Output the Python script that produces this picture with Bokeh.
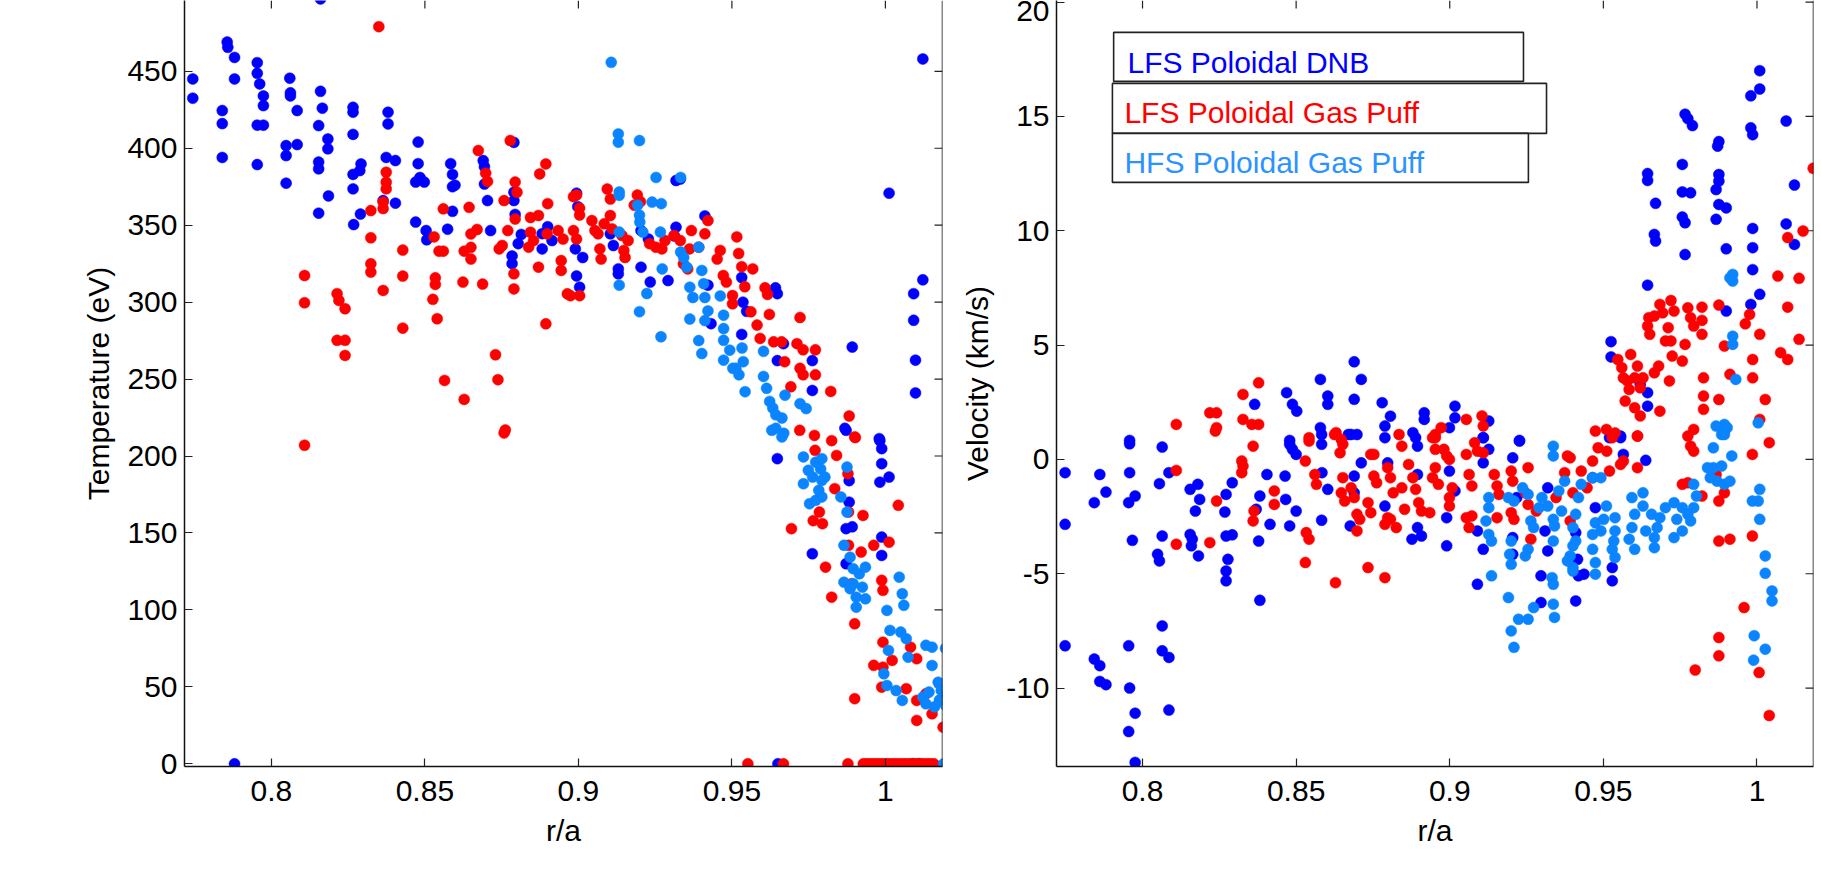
from bokeh.plotting import figure
from bokeh.models import (Range1d, FixedTicker, BoxAnnotation, Label, Span,
                          ColumnDataSource)
from bokeh.layouts import row
from bokeh.embed import file_html
from bokeh.resources import INLINE

# ---------------- data : left panel (Temperature, eV) ----------------
t_dnb_r = [0.816, 0.7744, 0.7744, 0.7856, 0.7858, 0.788, 0.788, 0.784, 0.784, 0.784, 0.7954, 0.7954, 0.7962, 0.7974,
           0.7974, 0.7954, 0.7974, 0.7954, 0.8048, 0.8048, 0.8048, 0.806, 0.8062, 0.8062, 0.8084, 0.8084, 0.816, 0.8166,
           0.8154, 0.8154, 0.8154, 0.8154, 0.8184, 0.8184, 0.8186, 0.8266, 0.8266, 0.8266, 0.8266, 0.8266, 0.8268, 0.829,
           0.8292, 0.8288, 0.838, 0.838, 0.8374, 0.8404, 0.8404, 0.8364, 0.8478, 0.8478, 0.8484, 0.847, 0.8498, 0.847,
           0.8504, 0.8506, 0.8584, 0.859, 0.859, 0.8598, 0.8574, 0.859, 0.869, 0.8694, 0.8694, 0.8704, 0.8714, 0.879,
           0.879, 0.879, 0.8794, 0.8784, 0.8784, 0.8814, 0.8804, 0.8882, 0.8882, 0.8914, 0.89, 0.8994, 0.8998, 0.899,
           0.8994, 0.9014, 0.9004, 0.9104, 0.9114, 0.913, 0.913, 0.9204, 0.9204, 0.9234, 0.9228, 0.9318, 0.9332, 0.9318,
           0.9312, 0.9292, 0.9412, 0.9422, 0.9432, 0.9532, 0.9536, 0.9548, 0.9532, 0.9642, 0.9648, 0.9668, 0.9648, 0.9762,
           0.9762, 0.9868, 0.9892, 0.998, 1.0012, 1.0092, 1.0092, 1.0098, 1.0098, 1.0122, 1.0122,
           0.788, 0.9648, 0.9762, 0.9872, 0.9882, 0.9882, 0.9892, 0.9872, 0.9872, 0.9982, 0.9988, 0.9988, 0.9982, 1.0012,
           0.9988, 0.9988, 0.965, 1.011, 1.009]
t_dnb_t = [497, 445, 432.5, 469, 465.6, 459, 445, 424.5, 416, 394, 455.6, 448.7, 441.8, 434, 427.7, 415, 415, 389.4,
           401.7, 395.2, 377.3, 445.5, 436, 434, 424.5, 402.4, 437, 426, 414.7, 391, 386.6, 357.8, 406, 399.6, 369,
           426.6, 423.4, 409, 383, 373.6, 350.4, 357.2, 389.8, 385.5, 423.4, 415.8, 394, 392, 364.3, 366, 404, 390,
           381, 378, 378, 352, 346.5, 340.5, 390, 383, 375, 376, 347.4, 359, 392, 388, 376.7, 366, 346.5, 403.8, 371.4,
           366, 357, 330, 325, 344, 338, 334.6, 344.5, 340, 349, 370.8, 362, 334.6, 317, 329, 309.7, 344.4, 336.8,
           321.6, 318.4, 346.5, 322.7, 313, 341, 379, 380, 348.7, 343, 314, 356, 311, 286, 316, 300, 294, 279, 309.3,
           305.5, 273, 262, 262, 242.6, 218, 270.8, 211.3, 370.8, 305.5, 288.2, 262.3, 241, 458, 314.5,
           0, 198.3, 136.5, 216.7, 184, 170, 154, 152.8, 130, 210, 204.8, 195, 183, 186.3, 147.3, 135.4, 0, 0, 0]

t_gp_r = [0.835, 0.8374, 0.8374, 0.8374, 0.8364, 0.8364, 0.8324, 0.8324, 0.8324, 0.8324, 0.8364, 0.8428, 0.8428,
          0.8428, 0.8108, 0.8108, 0.8214, 0.822, 0.824, 0.8214, 0.824, 0.824, 0.856, 0.856, 0.853, 0.8546, 0.8534,
          0.8534, 0.8526, 0.854, 0.8564, 0.8628, 0.8624, 0.8628, 0.8674, 0.8644, 0.865, 0.865, 0.865, 0.8688, 0.8698,
          0.8704, 0.867, 0.873, 0.8738, 0.8758, 0.8752, 0.8742, 0.8762, 0.8778, 0.8794, 0.88, 0.8794, 0.879, 0.879,
          0.877, 0.8844, 0.8844, 0.8838, 0.8854, 0.8874, 0.887, 0.887, 0.8894, 0.89, 0.8898, 0.8894, 0.8934, 0.895,
          0.8944, 0.8944, 0.8964, 0.8974, 0.9004, 0.8984, 0.8994, 0.9004, 0.8984, 0.8994, 0.9004, 0.9044, 0.9054,
          0.9064, 0.9084, 0.907, 0.9074, 0.9094, 0.9104, 0.9104, 0.911, 0.9142, 0.9148, 0.9152, 0.9162, 0.9182,
          0.9192, 0.9202, 0.9232, 0.9252, 0.9272, 0.9282, 0.9312, 0.9332, 0.9342, 0.9356, 0.9368, 0.9362, 0.9392,
          0.9422, 0.9412, 0.9452, 0.9462, 0.9472, 0.9482, 0.9502, 0.9502, 0.9516, 0.9522, 0.9532, 0.9542, 0.9568,
          0.9562, 0.9582, 0.9592, 0.9608, 0.9616, 0.9622, 0.9636, 0.9662, 0.9672, 0.9692, 0.9722, 0.9712, 0.9722,
          0.9732, 0.9732, 0.9772, 0.9772, 0.9822, 0.9882, 0.9902,
          0.8108, 0.8758, 0.9694, 0.9721, 0.9769, 0.9771, 0.9765, 0.9785, 0.9795, 0.9805, 0.9825, 0.9835, 0.9825,
          0.9841, 0.9878, 0.988, 0.99, 0.988, 0.989, 0.99, 0.99, 0.9927, 0.9921, 0.9962, 0.9988, 0.9992, 0.9992,
          1.0012, 1.0042, 0.9988, 0.9962, 0.9992, 1.0022, 1.0068, 1.0082, 1.0102, 1.0102, 1.0132, 1.0152, 1.0188,
          1.0102,
          0.9552, 0.9668, 0.9878, 0.9928, 0.9938, 0.9948, 0.9958, 0.9968, 0.9978, 0.9988, 0.9998, 1.0008, 1.0018,
          1.0028, 1.0038, 1.0048, 1.0058, 1.0068, 1.0078, 1.0088, 1.0098, 1.0108, 1.0118, 1.0128, 1.0138, 1.0148,
          1.0158]
t_gp_t = [479, 384.4, 377.9, 373.6, 365, 360.8, 359.5, 341.8, 324.9, 319.5, 307.6, 333.8, 316.9, 283.1, 317.3, 299.6,
          305.5, 301.1, 295.7, 275.2, 275.2, 265.4, 360.6, 333.1, 342.4, 333.1, 315.8, 311.5, 301.8, 289.2, 249.1,
          333.1, 313, 236.8, 398.5, 361.6, 344.3, 335.6, 328, 311.7, 383.8, 378.4, 347.2, 265.8, 249.6, 366, 336.8,
          334.6, 216.9, 405, 378, 371.4, 354, 318.4, 308.6, 346.5, 355, 345.4, 335.7, 340, 383.3, 356.3, 322.7, 389.8,
          364, 344.4, 285.9, 346.5, 341, 327, 320.6, 305.4, 304.2, 304.2, 368.5, 369.6, 361, 346.5, 341, 356.6, 353,
          346.5, 344.4, 350.9, 334.6, 328, 373.5, 367, 356.3, 347.6, 343.3, 333.6, 329, 340, 363, 369.6, 365.3, 338,
          335.7, 334.6, 340, 343.3, 340, 324.9, 321.6, 346.5, 334.6, 335.7, 353, 344.4, 328, 333.6, 317.3, 313, 304.3,
          298.9, 342.4, 331.6, 323, 310, 321.6, 293.7, 285.1, 276.4, 309.3, 305, 292, 274.2, 274.2, 261.3, 245, 290,
          273, 257, 269, 252.8, 269, 252.8, 242, 226, 212,
          207, 215, 152.8, 216.7, 213.4, 203.7, 158, 163.6, 156, 127.8, 108.3, 178.8, 210, 200.4, 188.5, 163.6, 212.4,
          142, 117, 91, 42.3, 161.4, 137.6, 142, 119.2, 112.7, 79, 144, 168, 49.8, 64, 62.8, 67.2, 48.8, 75.8, 68.3,
          41.2, 45.5, 32.5, 23.8, 28.2,
          0, 0, 0, 0, 0, 0, 0, 0, 0, 0, 0, 0, 0, 0, 0, 0, 0, 0, 0, 0, 0, 0, 0, 0, 0, 0, 0]

t_hfs_r = [0.9107, 0.913, 0.913, 0.9199, 0.9253, 0.9333, 0.9133, 0.9133, 0.9193, 0.9199, 0.92, 0.921, 0.924, 0.927,
           0.9267, 0.9133, 0.9133, 0.9199, 0.9223, 0.9269, 0.9273, 0.9333, 0.9343, 0.9353, 0.9363, 0.9373, 0.9363,
           0.9392, 0.9402, 0.9408, 0.9412, 0.9422, 0.9412, 0.9392, 0.9402, 0.9462, 0.9473, 0.9473, 0.9473, 0.9473,
           0.9493, 0.9503, 0.9513, 0.9523, 0.9537, 0.9543, 0.9533, 0.9603, 0.9603, 0.9613, 0.9623, 0.9633, 0.9643,
           0.9663, 0.9643, 0.9673, 0.9669, 0.9722, 0.9742,
           0.963, 0.9663, 0.9733, 0.9749, 0.9773, 0.9793, 0.9733, 0.9763, 0.9793, 0.9753, 0.9783, 0.9793, 0.9773,
           0.9803, 0.9789, 0.9855, 0.9875, 0.9865, 0.9885, 0.9895, 0.9915, 0.9925, 0.9905, 0.9935, 0.9935, 0.9905,
           0.9895, 0.9865, 0.9885, 0.9875, 0.9995, 1.0005, 1.0035, 1.0055, 1.0005, 1.0015, 1.001, 1.0045, 1.0055,
           1.006, 1.0068, 1.005, 1.0074, 1.0132, 1.0152, 1.0152, 1.0122, 1.0142, 1.0172, 1.0182, 1.0196, 1.0196,
           1.0196, 1.016, 1.0176, 1.0132, 1.019]
t_hfs_t = [455.8, 409.3, 403.9, 405, 381, 381, 371.6, 369.4, 363, 356.5, 352, 345.5, 365, 364, 345.5, 345.5, 311,
           293.8, 305.6, 277.5, 321.6, 332.5, 329, 322.7, 309.7, 303, 289, 335.7, 320.6, 312, 303, 294.3, 288, 275,
           266.6, 304, 291.5, 282.8, 275.2, 262.3, 268.8, 257, 257, 252.8, 261.3, 241.8, 270.2, 268, 251.7, 244,
           235.5, 231.2, 226.8, 224.7, 218, 239.5, 214.8, 234, 230.8,
           216.7, 212.4, 199.4, 190.7, 196, 198.3, 182, 186.3, 184.2, 169, 177.7, 173.4, 171.2, 186.3, 191.6, 173.4,
           163.6, 142, 134.3, 126.8, 123.5, 114.8, 108.3, 127.8, 107.2, 101.8, 117, 118, 113.8, 192.8, 58.5, 50.9,
           47.6, 41.2, 99.7, 86.7, 73.7, 121.3, 110.5, 103, 81.3, 85.6, 69.3, 77, 75.8, 63.9, 43.3, 46.6, 53, 47.7,
           75, 45.6, 38, 37, 41.4, 39, 0]

# ---------------- data : right panel (Velocity, km/s) ----------------
v_dnb_r = [1.0009, 1.0009, 0.998, 0.9766, 0.9775, 0.979, 0.9876, 0.9872, 0.998, 0.9986, 1.0095, 0.9757, 0.9644,
           0.9644, 0.9876, 0.9876, 0.9867, 0.9757, 0.9784, 1.0122, 0.967, 0.9876, 0.99, 0.9757, 0.9766, 0.9867,
           0.9986, 1.0095, 0.9666, 0.967, 0.99, 0.9986, 1.0122, 0.9766, 0.9986, 0.9644, 1.0009, 0.998, 0.99, 0.9525,
           0.9525, 0.9644, 0.9644, 0.962,
           0.8689, 0.8579, 0.8712, 0.8469, 0.8603, 0.8603, 0.8689, 0.8488, 0.8502, 0.8365, 0.878, 0.8807, 0.8917,
           0.8917, 0.9017, 0.9017, 0.9127, 0.8579, 0.8789, 0.867, 0.8698, 0.888, 0.8999, 0.9109, 0.7958, 0.8479,
           0.9227, 0.9556,
           0.7748, 0.7748, 0.7748, 0.7861, 0.7843, 0.7881, 0.7843, 0.7861, 0.7861, 0.7881, 0.7958, 0.7958, 0.7955,
           0.7976, 0.7967, 0.7955, 0.7958, 0.7976, 0.7955, 0.7976, 0.8064, 0.8055, 0.8064, 0.8049, 0.8055, 0.8064,
           0.8064, 0.8086, 0.8086, 0.8086, 0.8155, 0.818, 0.8186, 0.8172, 0.8155, 0.8162, 0.8159, 0.8182, 0.8272,
           0.8268, 0.8272, 0.8292, 0.8278, 0.8272, 0.8272, 0.8292, 0.8382, 0.8378, 0.8382, 0.837, 0.8405, 0.8415,
           0.8464, 0.8466,
           0.8479, 0.8488, 0.85, 0.85, 0.8479, 0.8584, 0.8603, 0.8583, 0.8583, 0.8583, 0.8679, 0.8689, 0.8712,
           0.8689, 0.8676, 0.8789, 0.8798, 0.8789, 0.8889, 0.8895, 0.8895, 0.8877, 0.8895, 0.8908,
           0.899, 0.8999, 0.899, 0.9017, 0.909, 0.9109, 0.909, 0.9109, 0.9127, 0.9109, 0.9205, 0.9227, 0.9218,
           0.9205, 0.9205, 0.9319, 0.931, 0.9319, 0.9297, 0.9297, 0.941, 0.9416, 0.9419, 0.941, 0.9437, 0.9465,
           0.9474, 0.9529, 0.9529, 0.952, 0.9556, 0.9565, 0.9638]
v_dnb_v = [17.0, 16.2, 15.9, 15.1, 14.9, 14.6, 13.9, 13.7, 14.5, 14.2, 14.8, 12.9, 12.5, 12.2, 12.46, 12.17, 11.8,
           11.7, 11.66, 12.0, 11.2, 11.15, 11.0, 10.6, 10.35, 10.5, 10.1, 10.3, 9.84, 9.55, 9.21, 9.26, 9.4, 8.96,
           8.3, 7.62, 7.22, 6.78, 6.49, 5.15, 4.48, 2.92, 2.33, 3.28,
           4.27, 3.5, 3.5, 2.92, 2.77, 2.41, 2.63, 2.41, 2.11, 2.41, 2.48, 1.89, 2.04, 1.75, 2.33, 1.82, 1.68, 1.39,
           1.46, 1.09, 1.09, 1.17, 1.39, 0.95, 0.83, 0.83, 0.83, 1.02,
           -0.58, -2.84, -8.15, -0.66, -1.89, -1.43, -8.73, -9.02, -9.71, -9.85, 0.68, -0.58, -1.89, -1.6, -3.54,
           -8.15, -10.0, -11.1, -11.9, -13.25, 0.54, -1.06, -3.35, -4.15, -4.44, -7.28, -8.37, -8.66, -10.96, -0.58,
           -1.31, -1.09, -1.75, -2.26, -3.28, -3.49, -3.78, -4.22, -1.53, -2.3, -3.35, -1.02, -4.37, -4.88, -5.31,
           -3.3, -6.16, -3.57, -1.6, -2.18, -0.66, -2.84, -0.73, -1.75,
           0.66, 0.44, 0.22, -2.26, -2.91, -0.58, -1.31, -2.66, 1.09, 0.66, 1.09, -0.73, -0.15, -1.46, -2.91, 0.95,
           -0.15, -2.04, 0.95, 0.58, -0.66, -3.49, -2.98, -3.35,
           -2.55, -0.51, -3.78, -1.38, -3.13, -3.93, -5.46, 0.95, 0.44, -0.15, 0.07, 0.8, -1.67, -3.42, -4.15, -1.24,
           -3.13, -4.0, -5.09, -6.26, -3.2, -4.37, -5.09, -6.19, -5.02, -0.8, -2.11, -4.73, -5.31, 0.95, 0.95, 0.22,
           -0.04]

v_gp_r = [1.0183, 1.015, 1.01, 1.0068, 1.0137, 1.01, 1.0137, 1.0077, 1.01, 1.0027, 1.0009, 0.9976, 0.9962, 1.0009,
          0.9986, 0.9986, 0.9876, 0.9894, 0.9912, 0.9876, 0.9826, 0.9826, 0.9826, 0.9794, 0.9775,
          0.9821, 0.9821, 0.9821, 0.9775, 0.9784, 0.9794, 0.9766, 0.9757, 0.972, 0.973, 0.9711, 0.9702, 0.9684,
          0.9693, 0.9666, 0.9648, 0.9644, 0.9651, 0.972, 0.9724, 0.9715, 0.9684, 0.9666, 0.968,
          0.9547, 0.956, 0.9589, 0.9565, 0.9578, 0.9602, 0.9611, 0.9629, 0.962, 0.9602, 0.962, 0.9571, 0.9584,
          0.9474, 0.951, 0.9529, 0.9611,
          0.811, 0.8241, 0.8219, 0.8241, 0.8327, 0.8327, 0.8356, 0.8378, 0.8378, 0.863, 0.8542, 0.8647, 0.8835,
          0.8944, 0.8972, 0.9054, 0.9105, 0.9109, 0.8953,
          0.8237, 0.836, 0.8323, 0.8327, 0.8323, 0.836, 0.8363, 0.8241, 0.8219, 0.811, 0.811, 0.8429, 0.8429,
          0.8533, 0.8542, 0.853, 0.8628, 0.8734, 0.8789,
          0.8542, 0.853, 0.8561, 0.8566, 0.8625, 0.8652, 0.8643, 0.8652, 0.8647, 0.8658, 0.8679, 0.8689, 0.8698,
          0.8707, 0.8698, 0.8734, 0.8743, 0.8753, 0.8762, 0.8743, 0.8753, 0.8798, 0.8807, 0.8816, 0.8807, 0.8789,
          0.8826, 0.8798, 0.8844, 0.8844, 0.8853, 0.8866, 0.888, 0.8889, 0.8899, 0.8908, 0.8935, 0.8944, 0.8953,
          0.8963, 0.8953, 0.8981, 0.899, 0.8953, 0.8999, 0.8999, 0.9008, 0.8999, 0.9054, 0.9063, 0.9072, 0.9081,
          0.909, 0.9054, 0.9063, 0.9072, 0.9109, 0.9145, 0.9154, 0.9154, 0.916, 0.92, 0.9205, 0.92, 0.9209, 0.9255,
          0.9246, 0.9255, 0.9264, 0.9282, 0.9346, 0.9374, 0.9392, 0.9401, 0.9383, 0.9392, 0.9428, 0.9447, 0.9465,
          0.9483, 0.9511, 0.952, 0.9538, 0.9556, 0.9565, 0.9611, 0.9611, 0.9794, 0.9775, 0.9784, 0.9821, 0.9867,
          0.9876, 0.9894, 0.9876, 0.9912, 0.9894, 0.9985, 0.9985, 1.004, 0.9958, 0.9876, 0.9876, 0.9799, 1.0007,
          1.004, 0.9757]
v_gp_v = [12.73, 9.99, 9.7, 8.02, 7.92, 6.66, 5.25, 4.67, 4.37, 2.62, 1.75, 6.34, 5.93, 5.47, 4.37, 3.57, 6.75, 4.96,
          3.72, 2.62, 3.57, 2.77, 2.19, 1.31, 1.02,
          6.66, 6.08, 5.47, 6.63, 6.2, 5.83, 5.03, 4.3, 6.95, 6.49, 5.76, 5.18, 6.78, 6.41, 6.27, 6.2, 5.83, 5.47,
          5.18, 4.52, 3.43, 2.11, 3.79, 4.08,
          4.37, 4.01, 4.59, 3.57, 3.43, 3.57, 4.08, 3.57, 3.13, 2.26, 1.9, 2.55, 3.06, 1.24, 1.31, 0.95, 1.02,
          1.53, 1.39, 2.04, 2.04, 2.84, 1.75, 1.53, 1.53, 3.35, 1.17, 0.95, 0.87, 1.09, 0.95, 1.39, 1.75, 1.9, 1.46,
          1.09,
          1.24, 0.58, -0.07, -0.29, -0.58, -2.69, -2.26, -1.82, -3.64, -0.48, -3.71, -1.38, -1.97, -3.2, -3.49, -4.51,
          -5.39, -4.73, -5.17,
          0.8, -0.07, -0.66, -1.09, 1.09, 0.66, 0.29, -0.8, -1.46, -1.82, -1.24, -1.67, -2.4, -2.62, -3.13, -1.89,
          -2.33, -0.73, -1.02, 0.22, 0.22, -0.36, -0.8, -1.46, -2.62, -2.84, -2.98, -2.55, 0.58, -1.24, -2.18, -0.22,
          -0.8, -1.31, -1.89, -2.26, -2.33, -0.8, -0.36, -1.09, 0.95, 0.44, 0.15, 0.44, 0.0, -1.67, -1.24, -2.04,
          0.22, -0.66, -1.16, 0.73, 0.36, -2.55, -2.98, -2.47, 0.29, -0.66, -1.16, -2.55, -1.53, -0.51, -0.95, -2.33,
          -2.62, -0.36, -1.46, -1.97, -3.49, -2.26, -1.67, -0.58, -2.69, -1.46, 0.15, 0.07, -0.51, -1.24, -0.07,
          0.51, 0.36, -0.51, 1.16, -0.22, -0.07, -0.36, 1.02, 0.36, -1.02, 0.58, -1.6, -0.66, -1.82, 1.24, -3.57,
          -3.49, -1.46, 0.22, -3.35, 0.73, -6.48, -7.79, -8.59, -9.21, -9.32, -11.2, -1.09]

v_hfs_r = [0.9921, 0.9912, 0.9921, 0.9921, 0.9921, 0.9931, 0.9894, 0.9867, 0.9903, 1.0004, 0.9885,
           0.9858, 0.9894, 0.9918, 0.9885, 0.9858, 0.987, 0.9894, 0.9794, 0.9803, 0.9794, 0.9775, 0.9757, 0.9784,
           0.973, 0.9739, 0.973, 0.9757, 0.9702, 0.9684, 0.9675, 0.9666, 0.9666, 0.9638, 0.9657, 0.9629, 0.9629,
           0.9602, 0.9593, 0.9602, 0.9584, 0.9593, 0.9538, 0.9538, 0.9534, 0.9538, 0.9529, 0.951, 0.9501, 0.9492,
           0.9474, 0.9465, 0.9465, 0.9474, 0.9474, 0.9492, 0.9465, 0.9428, 0.9419, 0.941, 0.9401, 0.941, 0.9392,
           0.9401, 0.9401, 0.9374, 0.9364, 0.9355, 0.9337, 0.9337, 0.9337, 0.9337, 0.9333, 0.9337, 0.9341, 0.9319,
           0.93, 0.9291, 0.9273, 0.9264, 0.9255, 0.9246, 0.9255, 0.9237, 0.9209, 0.9191, 0.92, 0.9195, 0.92, 0.9191,
           0.92, 0.9209, 0.9224, 0.9255, 0.9273, 0.9127, 0.9127, 0.9118, 0.9127, 0.9136, 0.9136, 0.9337, 0.9341,
           0.9383, 0.9401, 1.0027, 1.0027, 1.0049, 1.0049, 1.0009, 1.0004, 1.0009, 0.9985, 0.9991, 1.0027, 0.9989,
           0.9839, 0.9848, 0.9912]
v_hfs_v = [8.09, 7.94, 7.8, 5.39, 5.03, 3.5, 1.53, 1.46, 1.39, 1.6, 1.09,
           0.51, 1.09, 0.15, -0.29, -0.36, -0.95, -1.09, -1.09, -1.6, -2.11, -2.4, -2.11, -2.69, -1.89, -2.62, -3.42,
           -3.13, -2.11, -2.55, -2.98, -3.42, -3.86, -3.13, -2.4, -1.46, -2.04, -2.4, -2.98, -3.93, -3.49, -1.67,
           -2.55, -3.13, -3.57, -4.29, -3.93, -2.04, -2.62, -3.13, -2.77, -3.28, -3.93, -4.51, -5.02, -0.8, -0.8,
           -1.09, -1.67, -2.4, -2.98, -3.57, -4.22, -4.73, -4.88, -0.95, -2.26, -1.38, 0.58, 0.15, -2.62, -3.57,
           -5.17, -5.46, -6.91, -2.04, -1.67, -2.11, -2.98, -2.69, -3.93, -4.22, -1.53, -1.24, -1.82, -1.67, -3.57,
           -4.15, -4.59, -6.04, -7.5, -8.22, -6.99, -6.99, -6.48, -1.67, -2.11, -2.69, -3.28, -3.57, -5.09, -6.33,
           -2.91, -4.44, -3.78, -4.22, -4.98, -5.75, -6.19, -1.31, -1.82, -2.62, -1.82, -7.71, -8.3, -8.78, -0.36,
           -0.8, -0.95]

x_ticks = [0.8, 0.85, 0.9, 0.95, 1.0]
x_tick_labels = ["0.8", "0.85", "0.9", "0.95", "1"]
t_ticks = [0, 50, 100, 150, 200, 250, 300, 350, 400, 450, 500]
t_tick_labels = ["0", "50", "100", "150", "200", "250", "300", "350", "400", "450", "500"]
v_ticks = [-10, -5, 0, 5, 10, 15, 20]
v_tick_labels = ["-10", "-5", "0", "5", "10", "15", "20"]

series_names = ["LFS Poloidal DNB", "LFS Poloidal Gas Puff", "HFS Poloidal Gas Puff"]
series_colors = ["#0000ff", "#ff0000", "#0a84ff"]
legend_text_colors = ["#0000ff", "#ff0000", "#2b93ff"]

FONT = "Liberation Sans"
TICK_SIZE = "30px"
LABEL_SIZE = "30px"
TICK_LEN_PX = 8          # inward tick length on the mirrored (right / top) sides
FRAME_W = [758, 757]
FRAME_H = 766


def style_axis(ax, ticks, labels):
    ax.ticker = FixedTicker(ticks=ticks)
    ax.major_label_overrides = {t: l for t, l in zip(ticks, labels)}
    ax.major_tick_in = TICK_LEN_PX
    ax.major_tick_out = 0
    ax.minor_tick_in = 0
    ax.minor_tick_out = 0
    ax.major_tick_line_color = "#222222"
    ax.major_tick_line_width = 1.2
    ax.axis_line_color = "#111111"
    ax.axis_line_width = 1.5
    ax.major_label_text_font = FONT
    ax.major_label_text_color = "black"
    ax.major_label_text_font_size = TICK_SIZE
    ax.axis_label_text_font = FONT
    ax.axis_label_text_font_size = LABEL_SIZE
    ax.axis_label_text_font_style = "normal"
    ax.axis_label_text_color = "black"


def make_fig(width, left_border, frame_w, x_rng, y_rng, yticks, ylabels, ytitle):
    p = figure(width=width, height=871, x_range=x_rng, y_range=y_rng,
               output_backend="svg", toolbar_location=None,
               min_border_left=left_border, min_border_right=8,
               min_border_top=0, min_border_bottom=871 - FRAME_H)
    p.outline_line_color = None
    p.grid.visible = False
    p.background_fill_color = "white"
    p.border_fill_color = "white"

    xa = p.xaxis[0]
    style_axis(xa, x_ticks, x_tick_labels)
    xa.major_label_standoff = 14
    xa.axis_label = "r/a"
    xa.axis_label_standoff = 10

    ya = p.yaxis[0]
    style_axis(ya, yticks, ylabels)
    ya.major_label_standoff = 7
    ya.axis_label = ytitle
    ya.axis_label_standoff = 9

    # mirrored box side (right) and inward ticks on the right and top sides
    p.add_layout(Span(location=x_rng.end, dimension="height", line_color="#111111", line_width=1.5))
    dx = (x_rng.end - x_rng.start) * TICK_LEN_PX / frame_w
    dy = (y_rng.end - y_rng.start) * TICK_LEN_PX / FRAME_H
    ry = [t for t in yticks if y_rng.start <= t <= y_rng.end]
    p.segment(x0=[x_rng.end] * len(ry), x1=[x_rng.end - dx] * len(ry), y0=ry, y1=ry,
              line_color="#222222", line_width=1.2)
    tx = [t for t in x_ticks if x_rng.start <= t <= x_rng.end]
    p.segment(x0=tx, x1=tx, y0=[y_rng.end] * len(tx), y1=[y_rng.end - dy] * len(tx),
              line_color="#222222", line_width=1.2)
    return p


x_rng1 = Range1d(0.7717, 1.0186)
x_rng2 = Range1d(0.7720, 1.0184)

p1 = make_fig(950, 184, FRAME_W[0], x_rng1, Range1d(-1.75, 496.0), t_ticks, t_tick_labels, "Temperature (eV)")
p2 = make_fig(871, 106, FRAME_W[1], x_rng2, Range1d(-13.43, 20.07), v_ticks, v_tick_labels, "Velocity (km/s)")

left_sets = [(t_dnb_r, t_dnb_t), (t_gp_r, t_gp_t), (t_hfs_r, t_hfs_t)]
right_sets = [(v_dnb_r, v_dnb_v), (v_gp_r, v_gp_v), (v_hfs_r, v_hfs_v)]

for (xs, ys), col in zip(left_sets, series_colors):
    src = ColumnDataSource(dict(x=xs, y=ys))
    p1.scatter("x", "y", source=src, size=11, fill_color=col, line_color=col, line_width=0.5)

for (xs, ys), col in zip(right_sets, series_colors):
    src = ColumnDataSource(dict(x=xs, y=ys))
    p2.scatter("x", "y", source=src, size=11, fill_color=col, line_color=col, line_width=0.5)

# legend text boxes (MATLAB-style annotation boxes)
box_left = [0.7906, 0.7902, 0.7902]
box_right = [0.9240, 0.9315, 0.9256]
box_top = [18.675, 16.444, 14.258]
box_bottom = [16.532, 14.258, 12.115]
text_x = [0.7951, 0.7941, 0.7941]
text_y = [17.36, 15.17, 12.99]

for i in range(3):
    p2.add_layout(BoxAnnotation(left=box_left[i], right=box_right[i], top=box_top[i], bottom=box_bottom[i],
                                fill_color="white", fill_alpha=1.0, line_color="#222222", line_alpha=1.0,
                                line_width=1.6))
for i in range(3):
    p2.add_layout(Label(x=text_x[i], y=text_y[i], text=series_names[i], text_color=legend_text_colors[i],
                        text_font=FONT, text_font_size="30px", text_baseline="alphabetic"))

layout = row(p1, p2, spacing=0)
open("out.html", "w").write(file_html(layout, INLINE))
